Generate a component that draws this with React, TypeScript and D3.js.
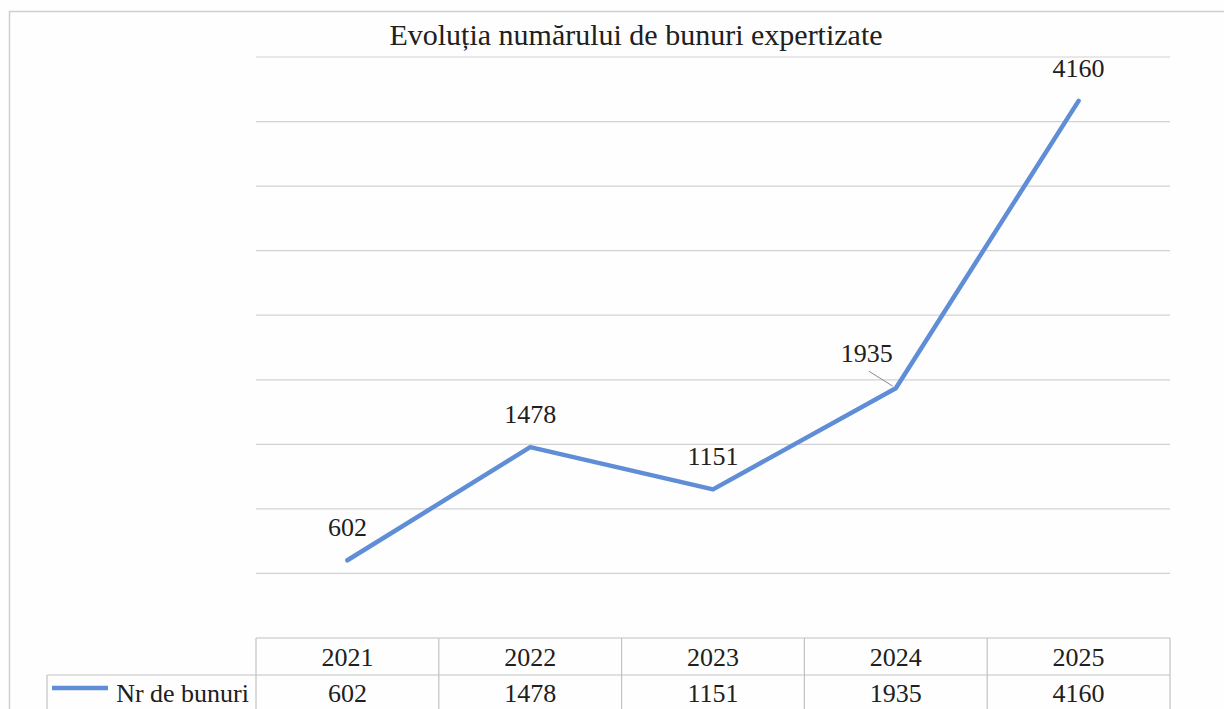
import * as d3 from 'd3';
import React from 'react';

const title = 'Evoluția numărului de bunuri expertizate';
const years = ['2021', '2022', '2023', '2024', '2025'];
const bunuri = [602, 1478, 1151, 1935, 4160];
const seriesName = 'Nr de bunuri';
const gridTicks = [500, 1000, 1500, 2000, 2500, 3000, 3500, 4000, 4500];

const W = 1224;
const H = 709;
const serifFamily = "'Liberation Serif', 'Tinos', 'Times New Roman', monospace";
const ink = '#202020';
const lineColor = '#5f8dd6';

function Label(props: { x: number; y: number; size: number; anchor?: string; children: React.ReactNode }) {
  return (
    <text
      x={props.x}
      y={props.y}
      textAnchor={props.anchor ?? 'middle'}
      fill={ink}
      style={{ fontFamily: serifFamily, fontSize: `${props.size}px` }}
    >
      {props.children}
    </text>
  );
}

function App() {
  const x = d3.scaleBand().domain(years).range([256, 1170]).padding(0);
  const y = d3.scaleLinear().domain([0, 4500]).range([638, 57]);

  const cx = (yr: string) => (x(yr) ?? 0) + x.bandwidth() / 2;

  const line = d3
    .line<number>()
    .x((d, i) => cx(years[i]))
    .y((d) => y(d));

  const tableTop = y(0);
  const rowH = 37;

  return (
    <div style={{ position: 'absolute', left: 0, top: 0, fontFamily: serifFamily }}>
      <svg width={W} height={H} style={{ display: 'block', background: '#fefefe', fontFamily: serifFamily }}>
        <style>{`text { font-family: 'Liberation Serif', 'Tinos', 'Times New Roman', monospace !important; }`}</style>
        {/* outer chart frame */}
        <path d={`M9.5,${H} V11.5 H${W}`} fill="none" stroke="#cfcfcf" strokeWidth={1.5} />

        <Label x={636} y={45} size={30}>{title}</Label>

        {/* gridlines */}
        {gridTicks.map((t) => (
          <line key={t} x1={256} x2={1170} y1={y(t)} y2={y(t)} stroke="#d2d2d2" strokeWidth={1.2} />
        ))}

        {/* series */}
        <path
          d={line(bunuri) ?? ''}
          fill="none"
          stroke={lineColor}
          strokeWidth={4.5}
          strokeLinejoin="round"
          strokeLinecap="round"
        />

        {/* data labels */}
        {bunuri.map((v, i) => {
          const shifted = i === 3;
          const lx = cx(years[i]) + (shifted ? -29 : 0);
          const ly = y(v) - (shifted ? 26 : 24);
          return (
            <g key={years[i]}>
              {shifted && (
                <line x1={lx + 2} y1={ly + 9} x2={cx(years[i]) - 3} y2={y(v) - 2} stroke="#8a8a8a" strokeWidth={1} />
              )}
              <Label x={lx} y={ly} size={26}>{v}</Label>
            </g>
          );
        })}

        {/* data table */}
        <g stroke="#c2c2c2" strokeWidth={1.2} fill="none">
          <line x1={256} x2={1170} y1={tableTop} y2={tableTop} />
          <line x1={47} x2={1170} y1={tableTop + rowH} y2={tableTop + rowH} />
          <line x1={47} x2={47} y1={tableTop + rowH} y2={H + 2} />
          {years.map((yr) => (
            <line key={yr} x1={x(yr)} x2={x(yr)} y1={tableTop} y2={H + 2} />
          ))}
          <line x1={1170} x2={1170} y1={tableTop} y2={H + 2} />
        </g>
        {years.map((yr, i) => (
          <g key={yr}>
            <Label x={cx(yr)} y={tableTop + 28} size={26}>{yr}</Label>
            <Label x={cx(yr)} y={tableTop + rowH + 27} size={26}>{bunuri[i]}</Label>
          </g>
        ))}
        <line x1={52} x2={108} y1={tableTop + rowH + 13} y2={tableTop + rowH + 13} stroke={lineColor} strokeWidth={4.5} />
        <Label x={249} y={tableTop + rowH + 27} size={26} anchor="end">{seriesName}</Label>
      </svg>
    </div>
  );
}

export default App;
